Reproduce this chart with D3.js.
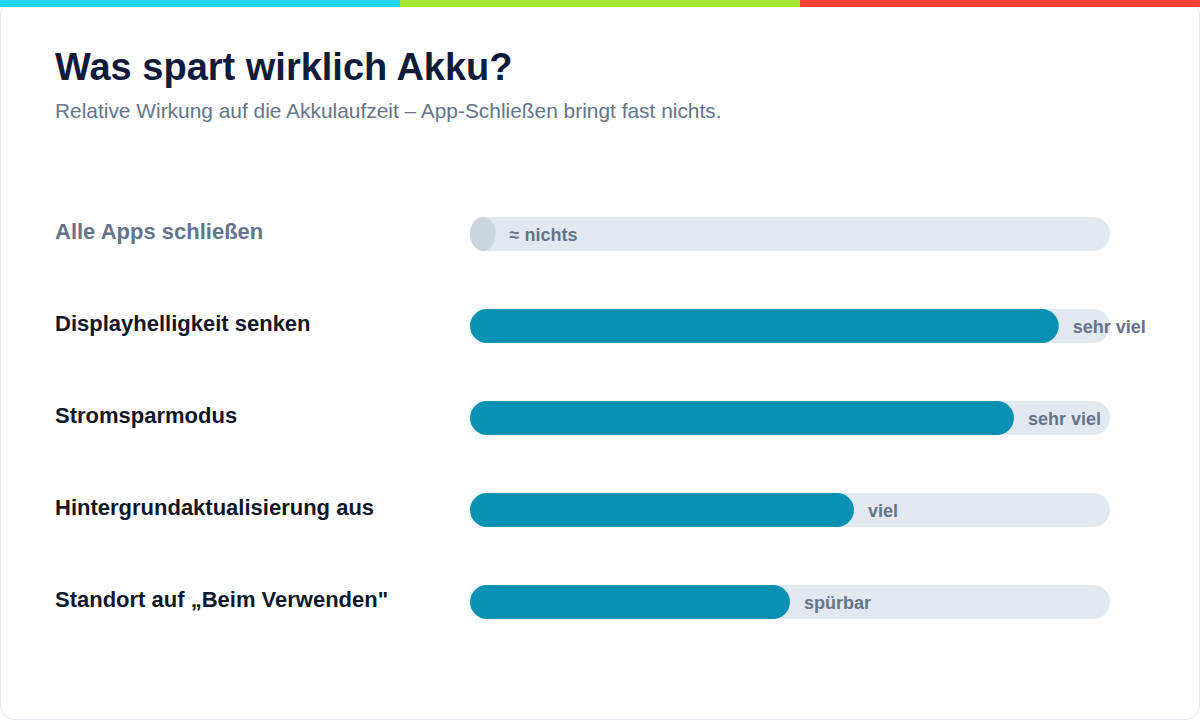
<!DOCTYPE html>
<html>
<head>
<meta charset="utf-8">
<script src="https://cdn.jsdelivr.net/npm/d3@7"></script>
<style>
  html, body { margin: 0; padding: 0; background: #ffffff; }
  svg { display: block; font-family: "Liberation Sans", Arial, sans-serif; }
</style>
</head>
<body>
<svg id="chart" width="1200" height="720"></svg>
<script>
// data
const categories = [
  'Alle Apps schließen',
  'Displayhelligkeit senken',
  'Stromsparmodus',
  'Hintergrundaktualisierung aus',
  'Standort auf „Beim Verwenden"'
];
const effect = [0.04, 0.92, 0.85, 0.60, 0.50];
const effectLabels = ['≈ nichts', 'sehr viel', 'sehr viel', 'viel', 'spürbar'];
const isMyth = [true, false, false, false, false];

const stripeColors = ['#22d3ee', '#a3e635', '#ff4136'];

const width = 1200;
const height = 720;
const barH = 34;

const svg = d3.select('#chart');

// card
svg.append('rect')
  .attr('x', 0.5).attr('y', 0.5)
  .attr('width', width - 1).attr('height', height - 1)
  .attr('rx', 14)
  .attr('fill', '#fff')
  .attr('stroke', '#e2e8f0');

// top stripe
const sx = d3.scaleBand().domain(d3.range(stripeColors.length)).range([0, width]);
svg.append('g')
  .selectAll('rect')
  .data(stripeColors)
  .join('rect')
  .attr('x', (d, i) => sx(i))
  .attr('y', 0)
  .attr('width', sx.bandwidth())
  .attr('height', 7)
  .attr('fill', d => d);

// title
svg.append('text')
  .attr('x', 55).attr('y', 80)
  .attr('font-size', 38)
  .attr('font-weight', 700)
  .attr('fill', '#0f1b3a')
  .text('Was spart wirklich Akku?');

svg.append('text')
  .attr('x', 55).attr('y', 118)
  .attr('font-size', 20.9)
  .attr('fill', '#64748b')
  .text('Relative Wirkung auf die Akkulaufzeit – App-Schließen bringt fast nichts.');

// scales
const x = d3.scaleLinear().domain([0, 1]).range([470, 1110]);
const y = d3.scalePoint().domain(categories).range([234, 602]);

const rows = categories.map((c, i) => ({
  cat: c, v: effect[i], label: effectLabels[i], myth: isMyth[i]
}));

const g = svg.append('g');

// left labels
g.selectAll('text.cat')
  .data(rows)
  .join('text')
  .attr('class', 'cat')
  .attr('x', 55)
  .attr('y', d => y(d.cat) + 5)
  .attr('font-size', 22)
  .attr('font-weight', 700)
  .attr('fill', d => d.myth ? '#64748b' : '#0f172a')
  .text(d => d.cat);

// tracks
g.selectAll('rect.track')
  .data(rows)
  .join('rect')
  .attr('class', 'track')
  .attr('x', x(0))
  .attr('y', d => y(d.cat) - barH / 2)
  .attr('width', x(1) - x(0))
  .attr('height', barH)
  .attr('rx', barH / 2).attr('ry', barH / 2)
  .attr('fill', '#e2e8f0');

// bars
g.selectAll('rect.bar')
  .data(rows)
  .join('rect')
  .attr('class', 'bar')
  .attr('x', x(0))
  .attr('y', d => y(d.cat) - barH / 2)
  .attr('width', d => x(d.v) - x(0))
  .attr('height', barH)
  .attr('rx', barH / 2).attr('ry', barH / 2)
  .attr('fill', d => d.myth ? '#cbd5e1' : '#0891b2');

// value labels
g.selectAll('text.val')
  .data(rows)
  .join('text')
  .attr('class', 'val')
  .attr('x', d => x(d.v) + 14)
  .attr('y', d => y(d.cat) + 6.5)
  .attr('font-size', 18)
  .attr('font-weight', 700)
  .attr('fill', '#64748b')
  .text(d => d.label);
</script>
</body>
</html>
